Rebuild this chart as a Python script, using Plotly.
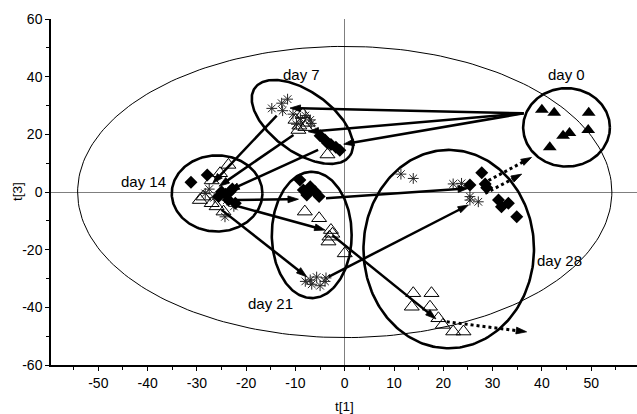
import numpy as np
import plotly.graph_objects as go

# ---------------- data ----------------
# day 0 (filled triangles)
d0_x = [40.0, 42.5, 49.5, 44.3, 45.6, 49.4, 41.6]
d0_y = [28.5, 27.5, 27.5, 19.5, 20.5, 21.5, 15.5]

# asterisks
ast_x = [-14.8, -12.8, -12.6, -11.6, -10.5, -9.0, -8.0, -7.0, -6.8, -9.8,
         -23.9, -28.3, -24.3, -26.5, -27.5, -22.5,
         -7.0, -5.7, -4.0, -6.7, -5.0, -8.0, -3.8,
         11.4, 13.9, 22.0, 23.7, 25.4, 25.4, 27.1]
ast_y = [29.0, 30.8, 28.2, 32.2, 27.0, 25.5, 26.5, 25.0, 23.8, 23.5,
         -2.8, -0.5, -8.6, -2.0, 1.0, -5.0,
         -30.5, -29.5, -31.0, -32.0, -32.5, -31.0, -29.8,
         6.2, 4.7, 2.8, 3.0, -1.6, -2.8, -3.4]

# open triangles
tri_x = [-9.4, -10.0, -8.5, -7.5, -9.2, -8.0, -3.5,
         -23.6, -25.3, -27.0, -28.7, -29.4, -27.0, -24.6, -26.0,
         -8.1, -5.2, -2.8, -3.1, -3.3, -2.5, 0.0,
         13.9, 17.6, 13.6, 17.3, 19.0, 19.9, 22.0, 24.1]
tri_y = [21.5, 25.0, 27.0, 24.0, 23.0, 22.5, 13.0,
         9.4, 6.5, 4.0, -1.6, -2.8, -3.9, -6.8, -5.0,
         -6.8, -9.1, -13.2, -15.5, -17.2, -14.5, -21.3,
         -35.1, -35.1, -39.8, -39.8, -43.8, -46.1, -48.4, -48.4]

# diamonds
dia_x = [-5.0, -4.0, -2.8, -1.8, -1.0, -3.5,
         -31.2, -27.9, -25.0, -23.3, -23.6, -22.2, -25.6, -24.2, -22.8,
         -9.1, -8.4, -7.0, -6.0, -5.2, -7.7,
         27.8, 25.4, 28.5, 31.2, 31.8, 33.2, 34.9, 28.8]
dia_y = [19.5, 18.0, 16.5, 15.5, 14.5, 17.0,
         3.4, 5.9, 0.1, 0.1, -2.8, -3.9, -1.6, -0.8, 1.0,
         4.2, 0.7, 1.8, 0.1, -1.6, -1.0,
         6.7, 2.4, 2.8, -2.8, -5.1, -3.9, -8.6, 1.5]

# group ellipses: centre and two conjugate semi-axis vectors (data units)
ell_names = ["day 0", "day 7", "day 14", "day 21", "day 28"]
ell_cx = [45.0, -8.6, -25.9, -6.7, 21.1]
ell_cy = [22.4, 24.3, -0.5, -14.9, -19.8]
ell_ux = [8.8, 9.63, 9.2, 8.1, 17.3]
ell_uy = [0.0, -11.79, 0.0, 0.0, 0.0]
ell_vx = [0.0, -3.58, 0.0, 0.0, 0.0]
ell_vy = [13.6, -8.54, 13.2, 21.9, 34.4]

# Hotelling T2 ellipse
t2_rx, t2_ry = 54.2, 50.5

# group labels
lab_text = ["day 0", "day 7", "day 14", "day 21", "day 28"]
lab_x = [45.0, -8.7, -40.9, -15.0, 43.6]
lab_y = [40.6, 40.9, 3.6, -38.8, -23.9]

# trajectories (solid arrows)
arr_x0 = [36.3, 36.3, 36.3, -13.8, -10.4, -5.4, -22.2, -22.6, -25.0, -3.8, -2.5, -3.3]
arr_y0 = [27.3, 27.3, 27.3, 26.5, 19.8, 14.6, -2.8, -4.5, -6.2, -2.2, -15.0, -29.4]
arr_x1 = [-11.1, -7.4, -0.2, -26.8, -25.5, -23.5, -9.4, -4.0, -7.7, 25.1, 18.5, 25.1]
arr_y1 = [29.1, 20.9, 16.6, 3.0, 2.0, 0.5, -2.5, -13.2, -29.4, 1.3, -44.0, -4.5]

# extrapolated trajectories (dotted arrows)
dot_x0 = [28.1, 28.5, 20.7]
dot_y0 = [3.0, -0.5, -45.0]
dot_x1 = [37.9, 35.9, 36.9]
dot_y1 = [12.0, 6.2, -48.5]

# axis ticks
x_ticks = [-50, -40, -30, -20, -10, 0, 10, 20, 30, 40, 50]
y_ticks = [-60, -40, -20, 0, 20, 40, 60]

# ---------------- figure ----------------
FONT = "Liberation Sans, Arial, sans-serif"
fig = go.Figure()

t = np.linspace(0, 2 * np.pi, 241)
fig.add_trace(go.Scatter(x=t2_rx * np.cos(t), y=t2_ry * np.sin(t), mode="lines",
                         line=dict(color="black", width=1), hoverinfo="skip", showlegend=False))
for i in range(len(ell_names)):
    ex = ell_cx[i] + ell_ux[i] * np.cos(t) + ell_vx[i] * np.sin(t)
    ey = ell_cy[i] + ell_uy[i] * np.cos(t) + ell_vy[i] * np.sin(t)
    fig.add_trace(go.Scatter(x=ex, y=ey, mode="lines", line=dict(color="black", width=2.6),
                             hoverinfo="skip", showlegend=False))

fig.add_trace(go.Scatter(x=d0_x, y=d0_y, mode="markers", showlegend=False,
                         marker=dict(symbol="triangle-up", size=12, color="black")))
fig.add_trace(go.Scatter(x=tri_x, y=tri_y, mode="markers", showlegend=False,
                         marker=dict(symbol="triangle-up-open", size=13, color="black",
                                     line=dict(width=1, color="black"))))
fig.add_trace(go.Scatter(x=ast_x, y=ast_y, mode="markers", showlegend=False,
                         marker=dict(symbol="asterisk-open", size=9, color="#222",
                                     line=dict(width=1, color="#222"))))
fig.add_trace(go.Scatter(x=dia_x, y=dia_y, mode="markers", showlegend=False,
                         marker=dict(symbol="diamond", size=10, color="black")))

arrow_marker = dict(symbol="arrow", angleref="previous", size=[0, 11], color="black",
                    opacity=1, line=dict(width=0.8, color="black"))
for i in range(len(arr_x0)):
    fig.add_trace(go.Scatter(x=[arr_x0[i], arr_x1[i]], y=[arr_y0[i], arr_y1[i]],
                             mode="lines+markers", showlegend=False, hoverinfo="skip",
                             line=dict(color="black", width=2.5), marker=arrow_marker))
for i in range(len(dot_x0)):
    fig.add_trace(go.Scatter(x=[dot_x0[i], dot_x1[i]], y=[dot_y0[i], dot_y1[i]],
                             mode="lines+markers", showlegend=False, hoverinfo="skip",
                             line=dict(color="black", width=3, dash="dot"), marker=arrow_marker))

annotations = []
for txt, lx, ly in zip(lab_text, lab_x, lab_y):
    annotations.append(dict(x=lx, y=ly, xref="x", yref="y", text=txt, showarrow=False,
                            font=dict(family=FONT, size=15, color="black")))
annotations.append(dict(x=0, y=0, xref="x", yref="paper", yshift=-41, text="t[1]",
                        xanchor="center", yanchor="middle",
                        showarrow=False, font=dict(family=FONT, size=13.5, color="black")))
annotations.append(dict(x=0, y=0, xref="paper", yref="y", xshift=-34, text="t[3]",
                        xanchor="center", yanchor="middle",
                        textangle=-90, showarrow=False,
                        font=dict(family=FONT, size=13.5, color="black")))

axis_common = dict(showgrid=False, zeroline=True, zerolinecolor="#7f7f7f", zerolinewidth=1,
                   showline=True, linecolor="black", linewidth=1.5, ticks="outside",
                   ticklen=4, tickwidth=1, tickcolor="black",
                   tickfont=dict(family=FONT, size=14, color="black"))
fig.update_layout(
    width=637, height=414,
    margin=dict(l=51, r=0, t=19, b=49),
    plot_bgcolor="white", paper_bgcolor="white",
    xaxis=dict(range=[-59.6, 59.3], tickmode="array", tickvals=x_ticks,
               ticktext=[str(v) for v in x_ticks],
               minor=dict(tick0=0, dtick=5, ticks="outside", ticklen=3, tickcolor="black"),
               **axis_common),
    yaxis=dict(range=[-60, 60], tickmode="array", tickvals=y_ticks,
               ticktext=[str(v) for v in y_ticks],
               minor=dict(tick0=0, dtick=10, ticks="outside", ticklen=3, tickcolor="black"),
               **axis_common),
    annotations=annotations,
)
fig.write_html("out.html")
